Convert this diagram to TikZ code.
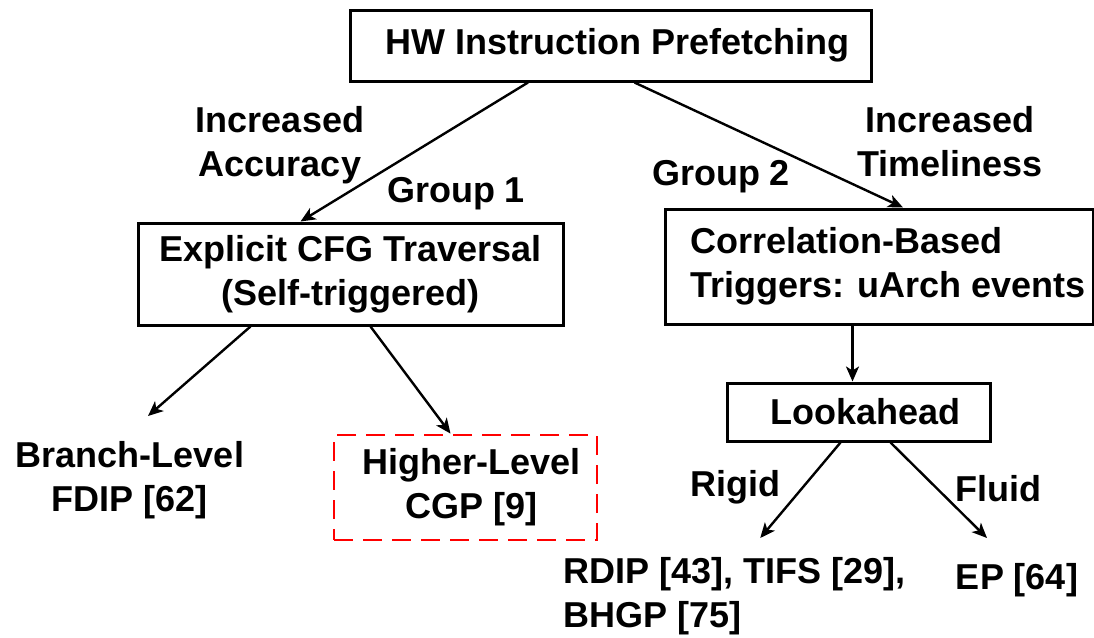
\documentclass[tikz,border=0pt]{standalone}
\usepackage{fontspec}
\setmainfont{Liberation Sans}
\usetikzlibrary{arrows.meta}

\tikzset{
  box/.style={draw, line width=3pt, rectangle, inner sep=0pt, align=center},
  redbox/.style={draw=red, line width=2.8pt, dash pattern=on 19pt off 10pt, rectangle, inner sep=0pt, align=center},
  lbl/.style={inner sep=0pt, align=center},
  conn/.style={line width=2.4pt, -{Stealth[length=15pt,width=13pt,inset=4pt]}}
}

\begin{document}
\begin{tikzpicture}[x=1pt, y=-1pt, font=\fontsize{36}{44}\selectfont\bfseries]
\useasboundingbox (0,0) rectangle (1094,637);
% boxes
\node[box, minimum width=521pt, minimum height=71pt] (hw) at (610.5,45.5) {\hspace*{14pt}HW Instruction Prefetching};
\node[box, minimum width=425pt, minimum height=102pt] (cfg) at (350.5,274) {Explicit CFG Traversal\\(Self-triggered)};
\node[box, minimum width=428pt, minimum height=115pt, align=left] (corr) at (879,266.5) {\hspace*{18pt}Correlation-Based\\\hspace*{18pt}Triggers: uArch events};
\node[box, minimum width=263pt, minimum height=58pt] (look) at (858.5,412) {\hspace*{14pt}Lookahead};
\node[redbox, minimum width=263pt, minimum height=105pt] (cgp) at (465.5,487.5) {\hspace*{12pt}Higher-Level\\\hspace*{12pt}CGP [9]};
% labels
\node[lbl, anchor=north] (accuracy) at (280,106) {Increased\\Accuracy};
\node[lbl, anchor=north] (group1) at (456,177) {Group 1};
\node[lbl, anchor=north] (group2) at (721,160) {Group 2};
\node[lbl, anchor=north] (timeliness) at (950,106) {Increased\\Timeliness};
\node[lbl, anchor=north] (branch) at (130,441) {Branch-Level\\FDIP [62]};
\node[lbl, anchor=north] (rigid) at (735,470) {Rigid};
\node[lbl, anchor=north] (fluid) at (998,475) {Fluid};
\node[lbl, anchor=north west, align=left] (rdip) at (563,557) {RDIP [43], TIFS [29],\\BHGP [75]};
\node[lbl, anchor=north] (ep) at (1017,563) {EP [64]};
% connectors
\draw[conn] ([xshift=-82.5pt]hw.south) -- ([xshift=-50pt]cfg.north);
\draw[conn] ([xshift=24pt]hw.south) -- ([xshift=24pt]corr.north);
\draw[conn] ([xshift=-100pt]cfg.south) -- ([xshift=18pt,yshift=25pt]branch.north);
\draw[conn] ([xshift=20pt]cfg.south) -- ([xshift=-15pt]cgp.north);
\draw[conn] ([xshift=-6pt]look.north |- corr.south) -- ([xshift=-6pt]look.north);
\draw[conn] ([xshift=-18pt]look.south) -- ([xshift=26pt,yshift=19pt]rdip.north);
\draw[conn] ([xshift=32pt]look.south) -- ([xshift=-30pt,yshift=25pt]ep.north);
\end{tikzpicture}
\end{document}
